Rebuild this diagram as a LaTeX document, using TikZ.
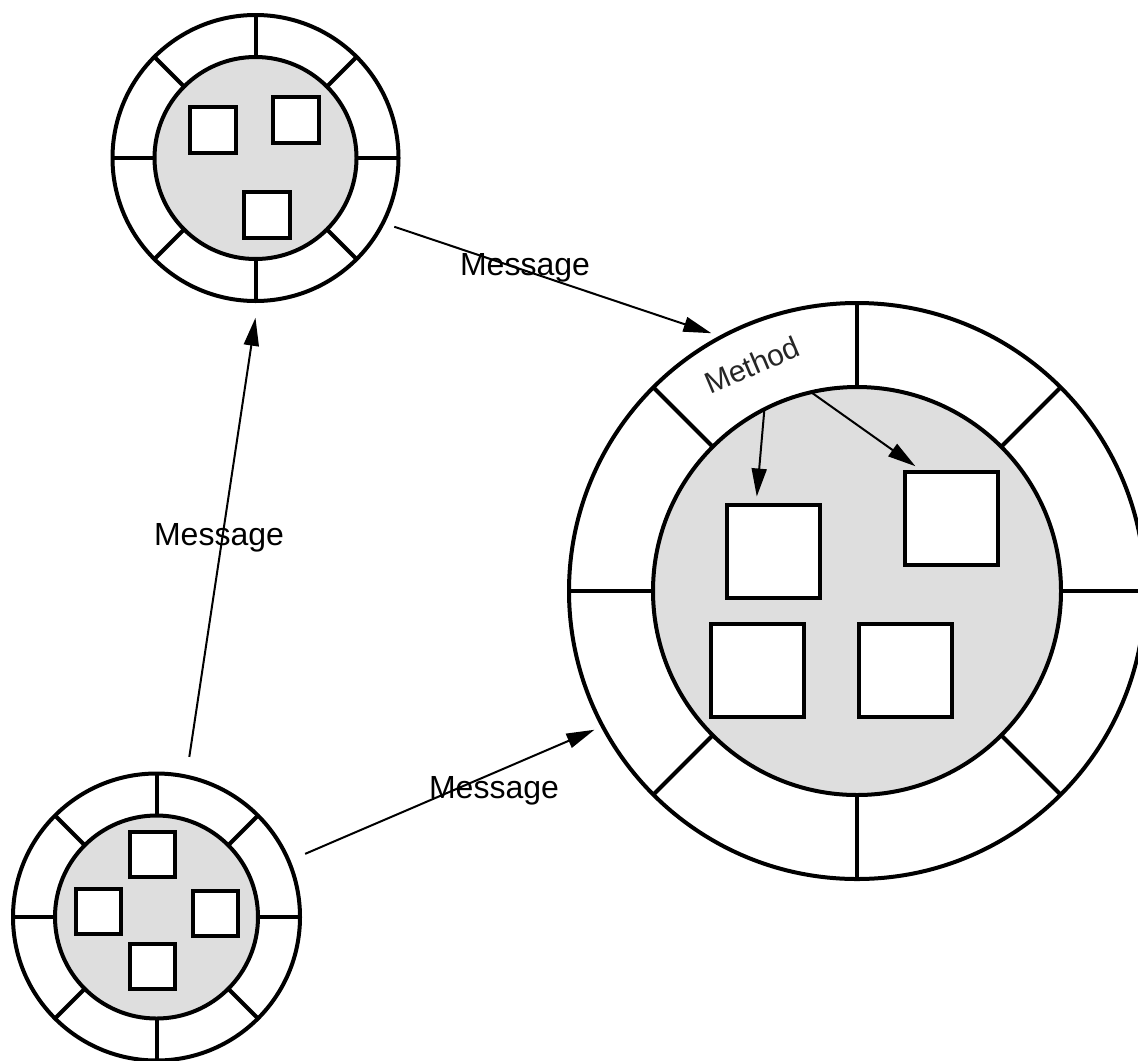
\documentclass[tikz,border=0pt]{standalone}
\usepackage{fontspec}
\setmainfont{Liberation Sans}
\usetikzlibrary{arrows.meta}
\definecolor{fillgray}{RGB}{222,222,222}
\begin{document}
\begin{tikzpicture}[x=0.5pt,y=-0.5pt,
  ring/.style={circle, draw, line width=2pt, inner sep=0pt, outer sep=0pt, fill=white},
  core/.style={circle, draw, line width=2pt, inner sep=0pt, outer sep=0pt, fill=fillgray},
  obj/.style={rectangle, draw, line width=2pt, fill=white, inner sep=0pt, outer sep=0pt, minimum size=#1},
  divider/.style={line width=2pt},
  msg/.style={-{Triangle[length=14pt,width=7.5pt]}, line width=1pt},
  lbl/.style={font=\fontsize{16}{19}\selectfont, inner sep=0pt}
]
\useasboundingbox (0,0) rectangle (1138,1060);
% top-left object
\node[ring, minimum size=143pt] (tl) at (255.5,158) {};
\node[core, minimum size=101pt] (tlin) at (255.5,158) {};
\foreach \a in {0,45,...,315} \draw[divider] (tlin.\a) -- (tl.\a);
\node[obj=23pt] (t1) at (213,130) {};
\node[obj=23pt] (t2) at (295.5,119.5) {};
\node[obj=23pt] (t3) at (266.5,214.5) {};
% bottom-left object
\node[ring, minimum size=143.5pt] (bl) at (156.5,917) {};
\node[core, minimum size=101.5pt] (blin) at (156.5,917) {};
\foreach \a in {0,45,...,315} \draw[divider] (blin.\a) -- (bl.\a);
\node[obj=22.5pt] (b1) at (152,854) {};
\node[obj=22.5pt] (b2) at (98,911) {};
\node[obj=22.5pt] (b3) at (215.5,913.5) {};
\node[obj=22.5pt] (b4) at (152,966.5) {};
% big object
\node[ring, minimum size=288pt] (big) at (857,591) {};
\node[core, minimum size=204pt] (bigin) at (857,591) {};
\foreach \a in {0,45,...,315} \draw[divider] (bigin.\a) -- (big.\a);
\node[obj=46.5pt] (sa) at (773,551) {};
\node[obj=46.5pt] (sb) at (951.5,518.5) {};
\node[obj=46.5pt] (sc) at (757.5,670.5) {};
\node[obj=46.5pt] (sd) at (905.5,670.5) {};
\node[rotate=23, font=\fontsize{15}{18}\selectfont, text=black!85, inner sep=0pt] (meth) at (752,365) {Method};
% messages
\draw[msg, shorten <=6pt, shorten >=5.5pt] (tl.-27.6) -- (big.118.4);
\draw[msg, shorten <=9pt, shorten >=4.5pt] (bl.23.3) -- (big.-152.7);
\draw[msg, shorten <=10pt, shorten >=8.5pt] (bl.78.2) -- (tl.-89.3);
\draw[msg, shorten >=4pt] (bigin.117.8) -- (sa.110);
\draw[msg, shorten >=5pt] (bigin.103.6) -- (sb.121);
\node[lbl] (m1) at (525,268) {Message};
\node[lbl] (m2) at (494,791) {Message};
\node[lbl] (m3) at (219,538) {Message};
\end{tikzpicture}
\end{document}
